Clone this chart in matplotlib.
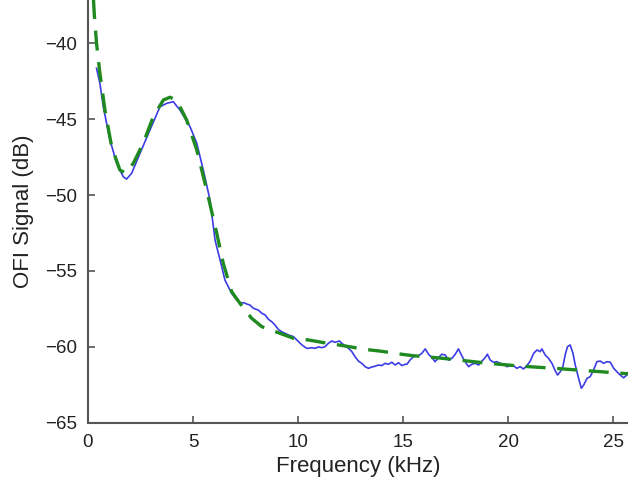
import matplotlib
matplotlib.use("Agg")
import matplotlib.pyplot as plt

plt.rcParams['font.family'] = ['Liberation Sans', 'DejaVu Sans']

# Measured OFI signal (blue)
meas_freq = [0.41, 0.57, 0.73, 1.05, 1.37, 1.68, 1.84, 2.08, 2.48, 2.95, 3.43, 3.75, 4.06,
             4.38, 4.86, 5.18, 5.49, 5.81, 6.05, 6.29,
             6.52, 6.68, 6.84, 7.08, 7.24, 7.40, 7.56, 7.71, 7.87, 8.11, 8.27, 8.43, 8.59,
             8.75, 8.90, 9.06, 9.22, 9.38, 9.54, 9.78, 9.94, 10.10, 10.25, 10.41,
             10.49, 10.65, 10.81, 10.97, 11.13, 11.29, 11.44, 11.60, 11.76, 11.97, 12.08,
             12.24, 12.40, 12.56, 12.71, 12.87, 13.03, 13.19, 13.35, 13.51, 13.67, 13.83,
             13.98, 14.14, 14.30, 14.46, 14.62, 14.78, 14.94, 15.10,
             15.18, 15.33, 15.49, 15.73, 15.89, 16.05, 16.21, 16.37, 16.52, 16.68, 16.84,
             17.00, 17.16, 17.32, 17.48, 17.63, 17.79, 17.95, 18.11, 18.27, 18.43, 18.59,
             18.75, 18.90, 19.01, 19.14, 19.30, 19.46, 19.62, 19.78, 19.94, 20.10,
             20.25, 20.41, 20.57, 20.73, 20.89, 21.05, 21.21, 21.37, 21.52, 21.60, 21.76,
             21.92, 22.08, 22.24, 22.35, 22.48, 22.60, 22.71, 22.82, 22.95, 23.08, 23.19,
             23.35, 23.48, 23.59, 23.75, 23.90, 24.06, 24.22, 24.38, 24.54, 24.70, 24.86,
             25.02, 25.17, 25.33, 25.49, 25.65, 25.73]
meas_db = [-41.65, -42.64, -44.18, -46.38, -47.91, -48.79, -48.95, -48.57, -47.25, -45.72,
           -44.18, -43.96, -43.85, -44.40, -45.50, -46.59, -48.35, -50.33, -52.97, -54.29,
           -55.60, -56.04, -56.48, -56.92, -57.14, -57.09, -57.18, -57.25, -57.46, -57.58,
           -57.79, -57.90, -58.19, -58.35, -58.56, -58.85, -59.01, -59.11, -59.22, -59.33,
           -59.55, -59.77, -59.95, -60.10,
           -60.10, -60.06, -60.10, -60.01, -60.06, -59.99, -59.77, -59.62, -59.70, -59.62,
           -59.77, -59.93, -60.10, -60.32, -60.65, -60.94, -61.09, -61.31, -61.42, -61.33,
           -61.28, -61.20, -61.24, -61.09, -61.15, -61.02, -61.20, -61.05, -61.24, -61.15,
           -61.15, -60.87, -60.65, -60.59, -60.43, -60.14, -60.49, -60.72, -60.98, -60.72,
           -60.49, -60.54, -60.87, -60.76, -60.49, -60.14, -60.59, -60.98, -61.31, -61.15,
           -61.09, -61.20, -60.94, -60.72, -60.49, -60.87, -61.02, -60.98, -61.09, -61.15,
           -61.31, -61.24,
           -61.24, -61.42, -61.31, -61.46, -61.24, -60.94, -60.43, -60.21, -60.32, -60.14,
           -60.54, -60.76, -61.09, -61.59, -61.86, -61.64, -61.31, -60.54, -59.99, -59.88,
           -60.43, -61.20, -62.08, -62.73, -62.52, -62.08, -61.97, -61.53, -60.98, -60.94,
           -61.09, -60.98, -61.02, -61.42, -61.64, -61.86, -62.04, -61.86, -61.64]

# Fitted model (green dashed)
fit_freq = [0.26, 0.30, 0.41, 0.57, 0.81, 1.13, 1.52, 1.81, 2.16, 2.63, 3.11, 3.59, 3.90,
            4.22, 4.70, 5.18, 5.65, 6.13, 6.44, 6.84, 7.24, 7.79, 8.27, 9.06, 9.78, 10.49,
            11.20, 12.16, 13.19, 14.00, 14.70, 15.49, 16.60, 17.50, 19.00, 20.65, 22.24,
            23.19, 24.78, 25.71]
fit_db = [-37.0, -38.03, -40.01, -41.98, -44.40, -46.82, -48.35, -48.57, -47.91, -46.59,
          -44.84, -43.74, -43.56, -43.74, -45.06, -47.03, -49.67, -52.52, -54.50, -56.37,
          -57.14, -58.12, -58.67, -59.07, -59.44, -59.55, -59.72, -59.93, -60.17, -60.30,
          -60.45, -60.59, -60.72, -60.85, -61.08, -61.28, -61.42, -61.52, -61.68, -61.78]

x_ticks = [0, 5, 10, 15, 20, 25]
y_ticks = [-65, -60, -55, -50, -45, -40]

fig = plt.figure(figsize=(6.28, 4.84), dpi=100)
ax = fig.add_axes([0.140, 0.1267, 0.860, 0.8733])

ax.plot(meas_freq, meas_db, color='#3c3ce6', lw=1.2, zorder=2)
ax.plot(fit_freq, fit_db, color='#1f8a1f', lw=2.4, dashes=(6, 3.5), zorder=3)

ax.set_xlim(0, 25.7)
ax.set_ylim(-65, -37.15)
ax.set_xticks(x_ticks)
ax.set_yticks(y_ticks)

for s in ['top', 'right']:
    ax.spines[s].set_visible(False)
for s in ['left', 'bottom']:
    ax.spines[s].set_color('#555555')
    ax.spines[s].set_linewidth(1.5)

ax.tick_params(direction='in', length=5, width=1.2, color='#555555',
               labelsize=13.5, labelcolor='#222222', pad=8)
ax.set_xlabel('Frequency (kHz)', fontsize=16, color='#222222', labelpad=4)
ax.set_ylabel('OFI Signal (dB)', fontsize=16, color='#222222', labelpad=8)

fig.savefig('out.png', dpi=100)
